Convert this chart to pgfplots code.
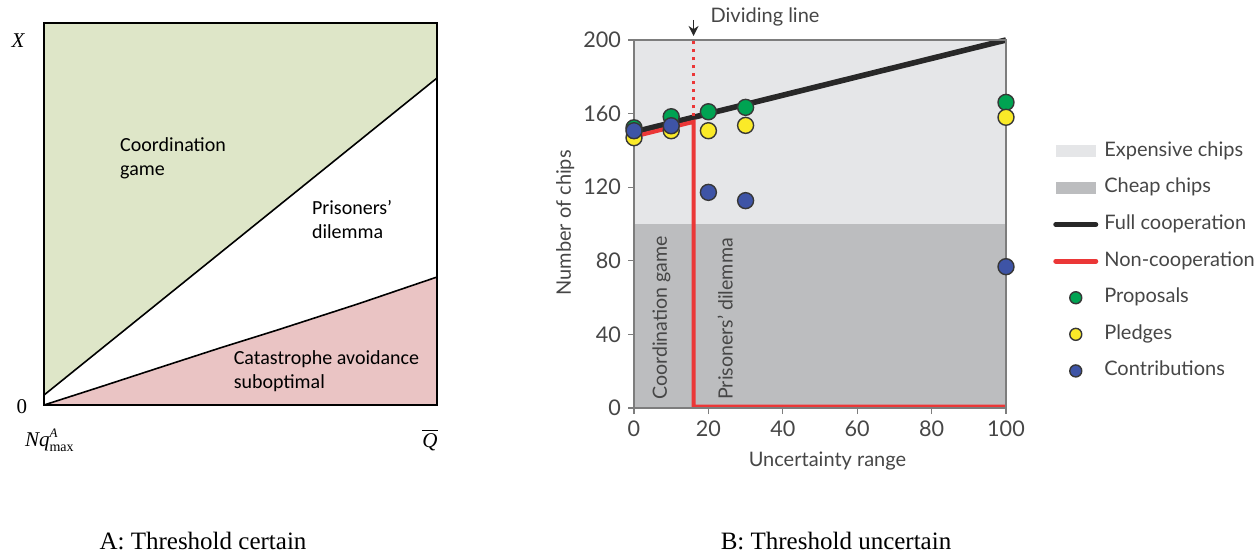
\documentclass[border=0pt]{standalone}
\usepackage{fontspec}
\usepackage{pgfplots}
\pgfplotsset{compat=1.18}
\usetikzlibrary{arrows.meta}
\newfontfamily\calib{Carlito}
\newfontfamily\serif{Liberation Serif}
\newfontfamily\lato{Lato}
\definecolor{gameGreen}{RGB}{222,230,200}
\definecolor{catPink}{RGB}{234,196,196}
\definecolor{expensive}{RGB}{229,230,232}
\definecolor{cheap}{RGB}{188,189,191}
\definecolor{fullBlack}{RGB}{40,40,40}
\definecolor{nonRed}{RGB}{235,55,55}
\definecolor{propGreen}{RGB}{0,163,82}
\definecolor{pledgeYellow}{RGB}{250,234,40}
\definecolor{contribBlue}{RGB}{62,84,166}
\definecolor{markEdge}{RGB}{55,55,55}
\definecolor{axisGray}{RGB}{125,125,125}
\definecolor{labelGray}{RGB}{70,70,70}

\begin{document}
\begin{tikzpicture}
\path[use as bounding box] (0,0) rectangle (630pt,277pt);

% panel A
\begin{axis}[
    at={(22pt,74.5pt)}, anchor=south west,
    scale only axis, width=196.5pt, height=191pt,
    xmin=0, xmax=1, ymin=0, ymax=1,
    xtick=\empty, ytick=\empty,
    axis line style={line width=0.8pt},
    axis on top, clip=false,
]
    \addplot[fill=gameGreen, draw=none] coordinates {(0,0.026) (1,0.856) (1,1) (0,1) (0,0.026)};
    \addplot[fill=catPink, draw=none] coordinates {
        (0,0) (0.142,0.047) (0.3,0.1) (0.45,0.15) (0.593,0.196) (0.8,0.265) (1,0.335) (1,0) (0,0)};
    \addplot[black, line width=0.8pt] coordinates {(0,0.026) (1,0.856)};
    \addplot[black, line width=0.8pt] coordinates {
        (0,0) (0.142,0.047) (0.3,0.1) (0.45,0.15) (0.593,0.196) (0.8,0.265) (1,0.335)};

    \begin{scope}[every node/.style={inner sep=0pt, align=left, anchor=north west,
        font=\calib\fontsize{10}{12}\selectfont}]
        \node at (axis cs:0.193,0.70) {Coordination\\game};
        \node at (axis cs:0.681,0.537) {Prisoners’\\dilemma};
        \node at (axis cs:0.482,0.144) {Catastrophe avoidance\\suboptimal};
    \end{scope}
    \begin{scope}[every node/.style={inner sep=0pt, font=\serif\fontsize{10.5}{12}\selectfont}]
        \node at (rel axis cs:-0.066,0.955) {\itshape X};
        \node at (rel axis cs:-0.056,-0.005) {0};
        \node at (rel axis cs:0.015,-0.092) {$\hbox{\serif\itshape Nq}^{\hbox{\serif\itshape\fontsize{6.5}{7}\selectfont A}}_{\hbox{\serif\fontsize{7}{8}\selectfont max}}$};
        \node at (rel axis cs:0.982,-0.092) {$\overline{\hbox{\serif\itshape Q}}$};
    \end{scope}
\end{axis}

% panel B
\begin{axis}[
    at={(317pt,73pt)}, anchor=south west,
    scale only axis, width=186pt, height=184pt,
    xmin=0, xmax=100, ymin=0, ymax=200,
    xtick={0,20,40,60,80,100}, ytick={0,40,80,120,160,200},
    tick align=outside, tick pos=left, major tick length=3pt,
    axis line style={axisGray, line width=0.6pt},
    tick style={axisGray, line width=0.6pt},
    /pgf/number format/assume math mode=true,
    ticklabel style={font=\lato\fontsize{10.8}{12}\selectfont, text=labelGray},
    xlabel={Uncertainty range}, ylabel={Number of chips},
    every axis x label/.style={at={(rel axis cs:0.52,-0.159)}, anchor=base,
        font=\lato\fontsize{10}{12}\selectfont, text=labelGray},
    every axis y label/.style={at={(rel axis cs:-0.185,0.503)}, rotate=90, anchor=center,
        font=\lato\fontsize{10}{12}\selectfont, text=labelGray},
    axis on top, clip=false,
    legend style={at={(1.126,0.723)}, anchor=north west, draw=none, fill=none,
        inner sep=0pt, font=\lato\fontsize{10}{12}\selectfont, text=labelGray,
        row sep=9.3pt, /tikz/column sep=3pt,
        nodes={inner sep=0pt, text height=7pt, text depth=2pt}},
    legend cell align=left,
]
    \addplot[fill=expensive, draw=none,
        legend image code/.code={\fill[expensive] (0pt,-3pt) rectangle (20pt,3pt);}]
        coordinates {(0,100) (100,100) (100,200) (0,200) (0,100)};
    \addlegendentry{Expensive chips}
    \addplot[fill=cheap, draw=none,
        legend image code/.code={\fill[cheap] (0pt,-3pt) rectangle (20pt,3pt);}]
        coordinates {(0,0) (100,0) (100,100) (0,100) (0,0)};
    \addlegendentry{Cheap chips}
    \addplot[fullBlack, line width=2.8pt,
        legend image code/.code={\draw[fullBlack, line width=2.5pt, line cap=round] (0pt,0pt) -- (20pt,0pt);}]
        coordinates {(0,150) (100,200)};
    \addlegendentry{Full cooperation}
    \addplot[nonRed, line width=2pt,
        legend image code/.code={\draw[nonRed, line width=2.5pt, line cap=round] (0pt,0pt) -- (20pt,0pt);}]
        coordinates {(0,147.5) (16,155.5) (16,0.8) (100,0.8)};
    \addlegendentry{Non-cooperation}
    \addplot[nonRed, line width=1.8pt, dash pattern=on 1.6pt off 2.4pt, forget plot]
        coordinates {(16,158.5) (16,200)};

    \addplot[only marks, mark=*, mark size=4pt,
        mark options={fill=propGreen, draw=markEdge, line width=0.7pt},
        legend image code/.code={\draw[only marks, mark=*, mark size=3pt, mark options={fill=propGreen, draw=markEdge, line width=0.7pt}] plot coordinates {(10pt,0pt)}; \path (0pt,0pt) (20pt,0pt);}]
        coordinates {(0,152.3) (10,158.3) (20,161) (30,163.4) (100,166.1)};
    \addlegendentry{Proposals}
    \addplot[only marks, mark=*, mark size=4pt,
        mark options={fill=pledgeYellow, draw=markEdge, line width=0.7pt},
        legend image code/.code={\draw[only marks, mark=*, mark size=3pt, mark options={fill=pledgeYellow, draw=markEdge, line width=0.7pt}] plot coordinates {(10pt,0pt)}; \path (0pt,0pt) (20pt,0pt);}]
        coordinates {(0,146.9) (10,150.7) (20,150.7) (30,153.6) (100,158)};
    \addlegendentry{Pledges}
    \addplot[only marks, mark=*, mark size=4pt,
        mark options={fill=contribBlue, draw=markEdge, line width=0.7pt},
        legend image code/.code={\draw[only marks, mark=*, mark size=3pt, mark options={fill=contribBlue, draw=markEdge, line width=0.7pt}] plot coordinates {(10pt,0pt)}; \path (0pt,0pt) (20pt,0pt);}]
        coordinates {(0,150.7) (10,153.4) (20,117.2) (30,112.7) (100,76.8)};
    \addlegendentry{Contributions}

    \draw[-{Stealth[length=5pt,width=5pt]}, fullBlack, line width=0.7pt] (axis cs:16,211) -- (axis cs:16,202.2);
    \node[anchor=west, inner sep=0pt, font=\lato\fontsize{10}{12}\selectfont, text=labelGray]
        at (axis cs:20.5,212.5) {Dividing line};
    \node[rotate=90, anchor=west, inner sep=0pt, font=\lato\fontsize{9.8}{11}\selectfont, text=labelGray]
        at (axis cs:7.4,4.3) {Coordination game};
    \node[rotate=90, anchor=west, inner sep=0pt, font=\lato\fontsize{9.8}{11}\selectfont, text=labelGray]
        at (axis cs:24.5,4.3) {Prisoners’ dilemma};
\end{axis}

\node[anchor=base, inner sep=0pt, font=\serif\fontsize{12.5}{14}\selectfont] at (101.5pt,2.5pt) {A: Threshold certain};
\node[anchor=base, inner sep=0pt, font=\serif\fontsize{12.5}{14}\selectfont] at (418pt,2.5pt) {B: Threshold uncertain};
\end{tikzpicture}
\end{document}
